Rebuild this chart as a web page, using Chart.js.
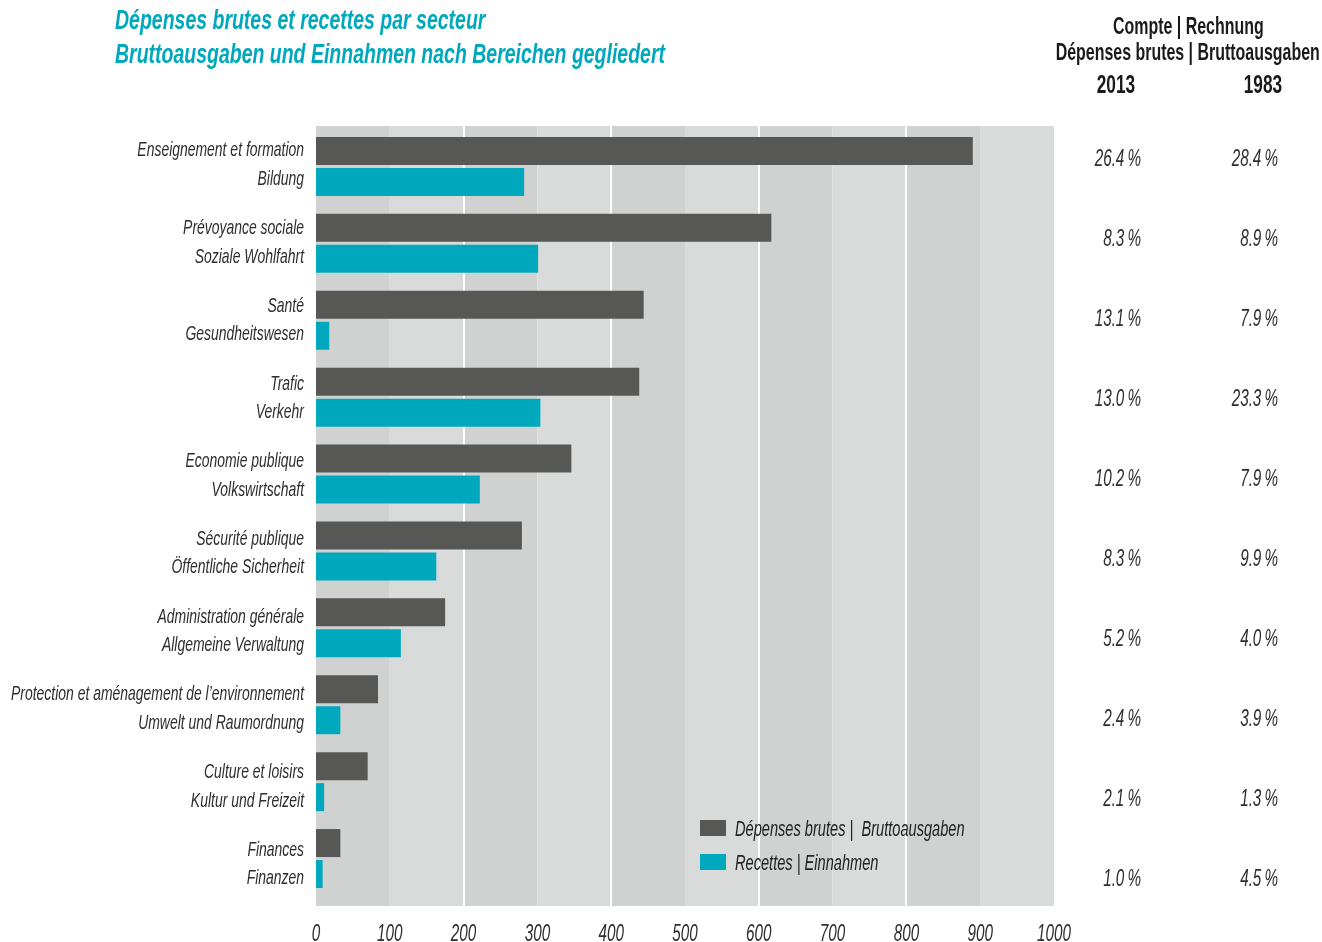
<!DOCTYPE html>
<html><head><meta charset="utf-8">
<script src="https://cdn.jsdelivr.net/npm/chart.js@4.4.1/dist/chart.umd.min.js"></script>
<style>
html,body{margin:0;padding:0;background:#fff;}
#wrap{position:relative;width:1322px;height:942px;overflow:hidden;}
canvas{position:absolute;left:0;top:0}
.t{position:absolute;font-family:"Liberation Sans",Arial,sans-serif;white-space:nowrap;line-height:1;}
.ti{color:#00a8bd;font-weight:bold;font-style:italic;font-size:28px;transform-origin:0 0;left:115px;}
.h{color:#1a1a1a;font-weight:bold;font-size:24px;transform-origin:50% 0;}
.y{font-size:26px;}
</style></head><body>
<div id="wrap">
<canvas id="c" width="1322" height="942"></canvas>
<div class="t ti" id="t1" style="top:6px">Dépenses brutes et recettes par secteur</div>
<div class="t ti" id="t2" style="top:40px">Bruttoausgaben und Einnahmen nach Bereichen gegliedert</div>
<div class="t h" id="h1" data-cx="1188" style="top:14px">Compte | Rechnung</div>
<div class="t h" id="h2" data-cx="1188" style="top:40px">Dépenses brutes | Bruttoausgaben</div>
<div class="t h y" id="h3" data-cx="1116" style="top:71px">2013</div>
<div class="t h y" id="h4" data-cx="1263" style="top:71px">1983</div>
</div>
<script>
const categoriesFr = ["Enseignement et formation","Prévoyance sociale","Santé","Trafic","Economie publique","Sécurité publique","Administration générale","Protection et aménagement de l’environnement","Culture et loisirs","Finances"];
const categoriesDe = ["Bildung","Soziale Wohlfahrt","Gesundheitswesen","Verkehr","Volkswirtschaft","Öffentliche Sicherheit","Allgemeine Verwaltung","Umwelt und Raumordnung","Kultur und Freizeit","Finanzen"];
const depenses = [890, 617, 444, 438, 346, 279, 175, 84, 70, 33];
const recettes = [282, 301, 18, 304, 222, 163, 115, 33, 11, 9];
const pct2013 = ["26.4","8.3","13.1","13.0","10.2","8.3","5.2","2.4","2.1","1.0"];
const pct1983 = ["28.4","8.9","7.9","23.3","7.9","9.9","4.0","3.9","1.3","4.5"];
const seriesLabels = ["Dépenses brutes |  Bruttoausgaben","Recettes | Einnahmen"];
const seriesColors = ["#575756","#00a8bd"];
const xMin = 0, xMax = 1000, xStep = 100;

const FONT = '"Liberation Sans",Arial,sans-serif';
const LABEL_FONT = 'italic 21px ' + FONT;
const PCT_FONT = 'italic 23px ' + FONT;
const TICK_FONT = 'italic 23px ' + FONT;
const LEGEND_FONT = 'italic 22px ' + FONT;
const TEXT_COLOR = '#2e2e2e';

// HTML text: condense horizontally (the original uses a condensed typeface)
(function(){
  const t1 = document.getElementById('t1'), t2 = document.getElementById('t2');
  const kT = 550 / t2.getBoundingClientRect().width;
  [t1,t2].forEach(e=>e.style.transform='scaleX('+kT+')');
  const h2 = document.getElementById('h2');
  const kH = 264 / h2.getBoundingClientRect().width;
  ['h1','h2','h3','h4'].forEach(id=>{
    const e = document.getElementById(id);
    const w = e.getBoundingClientRect().width;
    e.style.left = (parseFloat(e.dataset.cx) - w/2) + 'px';
    e.style.transform = 'scaleX('+kH+')';
  });
})();

// condensation factor for canvas text
const mctx = document.createElement('canvas').getContext('2d');
mctx.font = LABEL_FONT;
const K = 293 / mctx.measureText(categoriesFr[7]).width;

function condensedText(ctx, text, x, y, align){
  ctx.save();
  ctx.translate(x, y);
  ctx.scale(K, 1);
  ctx.textAlign = align;
  ctx.fillText(text, 0, 0);
  ctx.restore();
}

function bandArea(chart){
  const a = chart.chartArea;
  return {top: a.top - 2, bottom: a.bottom + 9};
}

const bandsPlugin = {
  id:'bands',
  beforeDatasetsDraw(chart){
    const {ctx, scales:{x}} = chart;
    const b = bandArea(chart);
    ctx.save();
    for(let v=xMin; v<xMax; v+=xStep){
      const x0 = x.getPixelForValue(v), x1 = x.getPixelForValue(v+xStep);
      ctx.fillStyle = (v/xStep)%2===0 ? '#d0d2d1' : '#d9dbda';
      ctx.fillRect(x0, b.top, x1-x0, b.bottom-b.top);
    }
    ctx.strokeStyle = '#ffffff';
    ctx.lineWidth = 2;
    for(let v=2*xStep; v<xMax; v+=2*xStep){
      const px = Math.round(x.getPixelForValue(v));
      ctx.beginPath();
      ctx.moveTo(px, b.top); ctx.lineTo(px, b.bottom);
      ctx.stroke();
    }
    ctx.restore();
  }
};

const textPlugin = {
  id:'texts',
  afterDraw(chart){
    const {ctx, chartArea:a, scales:{x,y}} = chart;
    const b = bandArea(chart);
    ctx.save();
    ctx.fillStyle = TEXT_COLOR;
    ctx.textBaseline = 'alphabetic';
    // category labels (two lines: French / German)
    ctx.font = LABEL_FONT;
    categoriesFr.forEach((f,i)=>{
      const cy = y.getPixelForValue(i) + i*0.8;
      condensedText(ctx, f, a.left - 12, cy - 10, 'right');
      condensedText(ctx, categoriesDe[i], a.left - 12, cy + 18.5, 'right');
    });
    // x tick labels
    ctx.font = TICK_FONT;
    x.ticks.forEach(t=>{
      condensedText(ctx, String(t.value), x.getPixelForValue(t.value), 941, 'center');
    });
    // percentages
    ctx.font = PCT_FONT;
    const step = (b.bottom - b.top + 20) / pct2013.length;
    pct2013.forEach((p,i)=>{
      const py = b.top + 32 + i*step + 8;
      condensedText(ctx, p + '\u2009%', a.right + 87, py, 'right');
      condensedText(ctx, pct1983[i] + '\u2009%', a.right + 224, py, 'right');
    });
    // legend
    ctx.font = LEGEND_FONT;
    seriesLabels.forEach((l,i)=>{
      const ly = b.bottom - 78 + i*34;
      ctx.fillStyle = seriesColors[i];
      ctx.fillRect(a.left + 384, ly-8, 26, 16);
      ctx.fillStyle = '#222222';
      condensedText(ctx, l, a.left + 419, ly + 8, 'left');
    });
    ctx.restore();
  }
};

new Chart(document.getElementById('c'), {
  type:'bar',
  data:{
    labels: categoriesFr.map((f,i)=>[f, categoriesDe[i]]),
    datasets:[
      {label:seriesLabels[0], data:depenses, backgroundColor:seriesColors[0]},
      {label:seriesLabels[1], data:recettes, backgroundColor:seriesColors[1]}
    ]
  },
  options:{
    indexAxis:'y',
    responsive:false,
    animation:false,
    categoryPercentage:0.806,
    barPercentage:0.903,
    layout:{padding:{top:128,right:268,left:0,bottom:0}},
    plugins:{legend:{display:false}, tooltip:{enabled:false}},
    scales:{
      x:{
        min:xMin,max:xMax,
        ticks:{stepSize:xStep, display:false},
        grid:{display:false, drawTicks:false},
        border:{display:false},
        afterFit(s){s.height = 45;}
      },
      y:{
        ticks:{display:false},
        grid:{display:false, drawTicks:false},
        border:{display:false},
        afterFit(s){s.width = 316;}
      }
    }
  },
  plugins:[bandsPlugin, textPlugin]
});
</script>
</body></html>
